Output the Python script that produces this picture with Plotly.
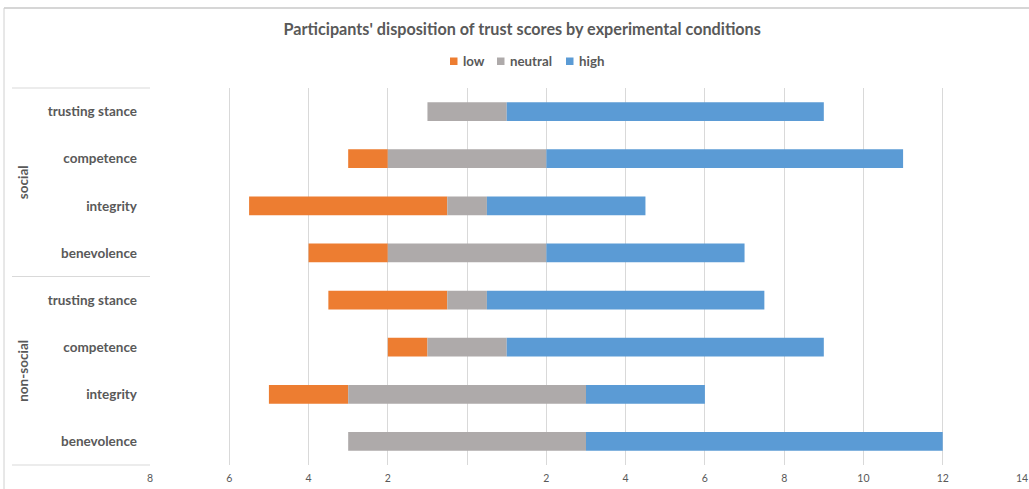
import plotly.graph_objects as go

# Trust score counts per condition (top-to-bottom order)
groups = ["social", "social", "social", "social",
          "non-social", "non-social", "non-social", "non-social"]
categories = ["trusting stance", "competence", "integrity", "benevolence",
              "trusting stance", "competence", "integrity", "benevolence"]
low = [0, 1, 5, 2, 3, 1, 2, 0]
neutral = [2, 4, 1, 4, 1, 2, 6, 6]
high = [8, 9, 4, 5, 7, 8, 3, 9]

series_names = ["low", "neutral", "high"]
series_colors = ["#ED7D31", "#AEAAAA", "#5B9BD5"]

tick_values = [-8, -6, -4, -2, 0, 2, 4, 6, 8, 10, 12, 14]
tick_labels = ["8", "6", "4", "2", "", "2", "4", "6", "8", "10", "12", "14"]

keys = [f"{g}|{c}" for g, c in zip(groups, categories)]

# Diverging layout: neutral centred on zero, low to the left, high to the right
low_base = [-(n / 2) - l for n, l in zip(neutral, low)]
neutral_base = [-(n / 2) for n in neutral]
high_base = [n / 2 for n in neutral]

FONT = "Lato"
TXT = "#595959"
GRID = "#d9d9d9"

fig = go.Figure()
for name, color, vals, base in zip(series_names, series_colors,
                                    [low, neutral, high],
                                    [low_base, neutral_base, high_base]):
    fig.add_trace(go.Bar(name=name, y=keys, x=vals, base=base, orientation="h",
                         marker=dict(color=color, line=dict(width=0)), width=0.4,
                         showlegend=False))

PW, PH = 872.0, 377.0  # plot area size in px (left=150, top=88)


def px_x(px):
    return (px - 150) / PW


def px_y(py):
    return 1 + (88 - py) / PH


shapes = []
line_style = dict(color=GRID, width=1)
# category box on the left of the plot
for yy in (0, 0.5, 1):
    shapes.append(dict(type="line", xref="paper", yref="paper",
                       x0=px_x(12), x1=0, y0=yy, y1=yy, line=line_style))
# outer chart frame
shapes.append(dict(type="line", xref="paper", yref="paper",
                   x0=px_x(4), x1=1.02, y0=px_y(8), y1=px_y(8),
                   line=dict(color="#c8c8c8", width=1.5)))
shapes.append(dict(type="line", xref="paper", yref="paper",
                   x0=px_x(4), x1=px_x(4), y0=-0.08, y1=px_y(8),
                   line=dict(color="#d0d0d0", width=1)))

annotations = []
for name, ypos in (("social", 0.75), ("non-social", 0.25)):
    annotations.append(dict(text=name, xref="paper", yref="paper",
                            x=px_x(23), y=ypos, xanchor="center", yanchor="middle",
                            showarrow=False, textangle=-90,
                            font=dict(family=FONT, size=13.5, color=TXT, weight="bold")))

# legend row: compact square swatch followed by the series name
legend_swatch_left = [450, 497, 566]
for name, color, sx in zip(series_names, series_colors, legend_swatch_left):
    shapes.append(dict(type="rect", xref="paper", yref="paper",
                       x0=px_x(sx), x1=px_x(sx + 7.5), y0=px_y(57.5), y1=px_y(65),
                       fillcolor=color, line=dict(width=0)))
    annotations.append(dict(text=name, xref="paper", yref="paper",
                            x=px_x(sx + 11), y=px_y(61), xanchor="left", yanchor="middle",
                            showarrow=False,
                            font=dict(family=FONT, size=13.3, color=TXT, weight="bold")))

fig.update_layout(
    width=1029, height=489,
    margin=dict(l=150, r=7, t=88, b=24, autoexpand=False),
    paper_bgcolor="white", plot_bgcolor="white",
    barmode="overlay",
    showlegend=False,
    title=dict(text="Participants' disposition of trust scores by experimental conditions",
               x=0.5075, xanchor="center", y=0.94, yanchor="middle",
               font=dict(family=FONT, size=16.2, color=TXT, weight="bold")),
    shapes=shapes,
    annotations=annotations,
    xaxis=dict(range=[-8, 14], tickvals=tick_values, ticktext=tick_labels,
               showgrid=True, gridcolor=GRID, gridwidth=1, zeroline=False,
               showline=False, ticks="", ticklabelstandoff=5,
               tickfont=dict(family=FONT, size=10.5, color=TXT)),
    yaxis=dict(type="category", categoryorder="array", categoryarray=keys,
               tickvals=keys, ticktext=categories, autorange="reversed",
               showgrid=False, zeroline=False, showline=False, ticks="",
               ticklabelstandoff=12,
               tickfont=dict(family=FONT, size=13.5, color=TXT, weight="bold")),
    font=dict(family=FONT, color=TXT),
)

fig.write_html("out.html")
